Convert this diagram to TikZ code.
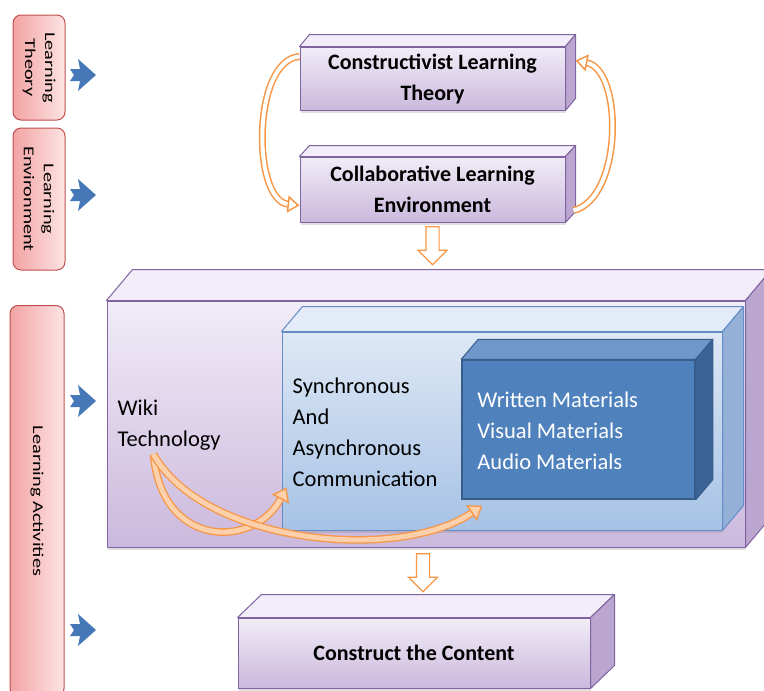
\documentclass[tikz,border=0pt]{standalone}
\usepackage{fontspec}
\setmainfont{Carlito}
\newfontfamily\sidefont[FakeStretch=1.35]{Carlito}
\usetikzlibrary{positioning, arrows.meta, shapes.arrows, calc, shadows}
\definecolor{purpleline}{RGB}{128,100,162}
\definecolor{purpletop}{RGB}{241,236,247}
\definecolor{purplebot}{RGB}{203,185,221}
\definecolor{purpleface}{RGB}{242,237,248}
\definecolor{purpleside}{RGB}{186,166,206}
\definecolor{blueline}{RGB}{100,140,198}
\definecolor{bluetop}{RGB}{222,232,245}
\definecolor{bluebot}{RGB}{166,194,229}
\definecolor{blueface}{RGB}{226,235,247}
\definecolor{blueside}{RGB}{148,176,214}
\definecolor{darkline}{RGB}{56,93,138}
\definecolor{darkfront}{RGB}{79,129,189}
\definecolor{darkface}{RGB}{112,151,202}
\definecolor{darkside}{RGB}{60,99,150}
\definecolor{redline}{RGB}{192,80,77}
\definecolor{redleft}{RGB}{243,163,163}
\definecolor{redright}{RGB}{253,228,228}
\definecolor{orangeline}{RGB}{247,150,70}
\definecolor{orangefill}{RGB}{251,208,170}
\definecolor{dartblue}{RGB}{70,120,184}

\begin{document}
\begin{tikzpicture}[x=1pt, y=-1pt, >=Stealth,
    front/.style={draw=purpleline, line width=1pt, top color=purpletop, bottom color=purplebot,
                  drop shadow={opacity=0.25, shadow xshift=1pt, shadow yshift=-2.5pt}},
    topface/.style={fill=purpleface, draw=purpleline, line width=1pt, line join=round},
    sideface/.style={fill=purpleside, draw=purpleline, line width=1pt, line join=round},
    sidebox/.style={draw=redline, line width=1pt, rounded corners=8pt,
                    left color=redleft, right color=redright},
    sidetext/.style={rotate=-90, align=center, inner sep=0pt,
                     font=\sidefont\fontsize{15}{20}\selectfont},
    boxtext/.style={font=\fontsize{22}{31}\selectfont\bfseries, align=center},
    bodytext/.style={font=\fontsize{22.5}{31}\selectfont, align=left, inner sep=0pt, anchor=north west},
    hollowdown/.style={single arrow, draw=orangeline, fill=white, line width=1.2pt, rotate=-90,
                       minimum height=38pt, inner xsep=0pt, inner ysep=6pt,
                       single arrow head extend=8pt, single arrow head indent=0pt},
    orangearc/.style={draw=orangeline, line width=1.5pt, double=white, double distance=4pt,
                      -{Triangle[length=12pt, width=17pt, fill=white]}},
    wikiarc/.style={draw=orangeline, line width=1.3pt, double=orangefill, double distance=5pt,
                    -{Triangle[length=13pt, width=19pt, fill=orangefill]}}]
    \useasboundingbox (0,0) rectangle (764,691);

    % Left labels
    \node[sidebox, minimum width=52pt, minimum height=105pt] (lthe) at (39,67.5) {};
    \node[sidetext] (lthetext) at (lthe) {Learning\\Theory};
    \node[sidebox, minimum width=52pt, minimum height=142pt] (lenv) at (39,199) {};
    \node[sidetext] (lenvtext) at (lenv) {Learning\\Environment};
    \node[sidebox, minimum width=54pt, minimum height=391pt] (lact) at (37,501) {};
    \node[sidetext] (lacttext) at (lact) {Learning Activities};
    \foreach \y in {75,195,401,630}
        \fill[dartblue] (70,\y-6) -- (80,\y-6) -- (78,\y-16) -- (96,\y) -- (78,\y+16) -- (80,\y+6) -- (70,\y+6) -- (74,\y) -- cycle;

    % Constructivist Learning Theory
    \node[front, minimum width=265pt, minimum height=63pt] (ct) at (432.5,78.5) {};
    \draw[topface] (ct.north west) -- ++(10,-12) -- ($(ct.north east)+(10,-12)$) -- (ct.north east) -- cycle;
    \draw[sideface] (ct.north east) -- ++(10,-12) -- ($(ct.south east)+(10,-12)$) -- (ct.south east) -- cycle;
    \node[boxtext] (cttext) at (ct) {Constructivist Learning\\Theory};

    % Collaborative Learning Environment
    \node[front, minimum width=265pt, minimum height=65pt] (clb) at (432.5,189.5) {};
    \draw[topface] (clb.north west) -- ++(10,-11) -- ($(clb.north east)+(10,-11)$) -- (clb.north east) -- cycle;
    \draw[sideface] (clb.north east) -- ++(10,-11) -- ($(clb.south east)+(10,-11)$) -- (clb.south east) -- cycle;
    \node[boxtext] (clbtext) at (clb) {Collaborative Learning\\Environment};

    % Loop between theory and environment
    \draw[orangearc] ($(ct.north west)+(0,10)$) .. controls (252,60) and (252,200) .. ($(clb.south west)+(0,-17)$);
    \draw[orangearc] ($(clb.south east)+(8,-12)$) .. controls (623,198) and (623,70) .. ($(ct.north east)+(10,14)$);
    \node[hollowdown] (dn1) at ($(clb.south)+(0,20)$) {};

    % Learning activities box
    \node[front, minimum width=638pt, minimum height=246pt] (act) at (426,424) {};
    \draw[topface] (act.north west) -- ++(26,-31) -- ($(act.north east)+(26,-31)$) -- (act.north east) -- cycle;
    \draw[sideface] (act.north east) -- ++(26,-31) -- ($(act.south east)+(26,-31)$) -- (act.south east) -- cycle;
    \node[bodytext] (wiki) at ($(act.north west)+(11,99)$) {Wiki\\Technology};

    % Communication box
    \node[draw=blueline, line width=1pt, top color=bluetop, bottom color=bluebot,
          drop shadow={opacity=0.25, shadow xshift=1pt, shadow yshift=-2.5pt},
          minimum width=440pt, minimum height=198pt] (comm) at (502,431) {};
    \draw[topface, fill=blueface, draw=blueline] (comm.north west) -- ++(21,-25) -- ($(comm.north east)+(21,-25)$) -- (comm.north east) -- cycle;
    \draw[sideface, fill=blueside, draw=blueline] (comm.north east) -- ++(21,-25) -- ($(comm.south east)+(21,-25)$) -- (comm.south east) -- cycle;
    \node[bodytext] (synctext) at ($(comm.north west)+(11,46)$) {Synchronous\\And\\Asynchronous\\Communication};

    % Materials box
    \node[draw=darkline, line width=1.5pt, fill=darkfront, minimum width=233pt, minimum height=139pt] (mat) at (578.5,429.5) {};
    \draw[topface, fill=darkface, draw=darkline] (mat.north west) -- ++(17,-20) -- ($(mat.north east)+(17,-20)$) -- (mat.north east) -- cycle;
    \draw[sideface, fill=darkside, draw=darkline] (mat.north east) -- ++(17,-20) -- ($(mat.south east)+(17,-20)$) -- (mat.south east) -- cycle;
    \node[bodytext, white] (mattext) at ($(mat.north west)+(16,32)$) {Written Materials\\Visual Materials\\Audio Materials};

    % Wiki arrows
    \coordinate (wikifoot) at ($(wiki.south west)+(36,4)$);
    \draw[wikiarc] (wikifoot) .. controls (162,550) and (255,548) .. ($(comm.south west)+(5,-43)$);
    \draw[wikiarc] (wikifoot) .. controls (205,545) and (400,562) .. ($(mat.south west)+(21,6)$);

    % Construct the Content
    \node[hollowdown] (dn2) at ($(act.south)+(-3,22)$) {};
    \node[front, minimum width=352pt, minimum height=70pt] (cnt) at (414,653) {};
    \draw[topface] (cnt.north west) -- ++(24,-23) -- ($(cnt.north east)+(24,-23)$) -- (cnt.north east) -- cycle;
    \draw[sideface] (cnt.north east) -- ++(24,-23) -- ($(cnt.south east)+(24,-23)$) -- (cnt.south east) -- cycle;
    \node[boxtext] (cnttext) at (cnt) {Construct the Content};
\end{tikzpicture}
\end{document}
